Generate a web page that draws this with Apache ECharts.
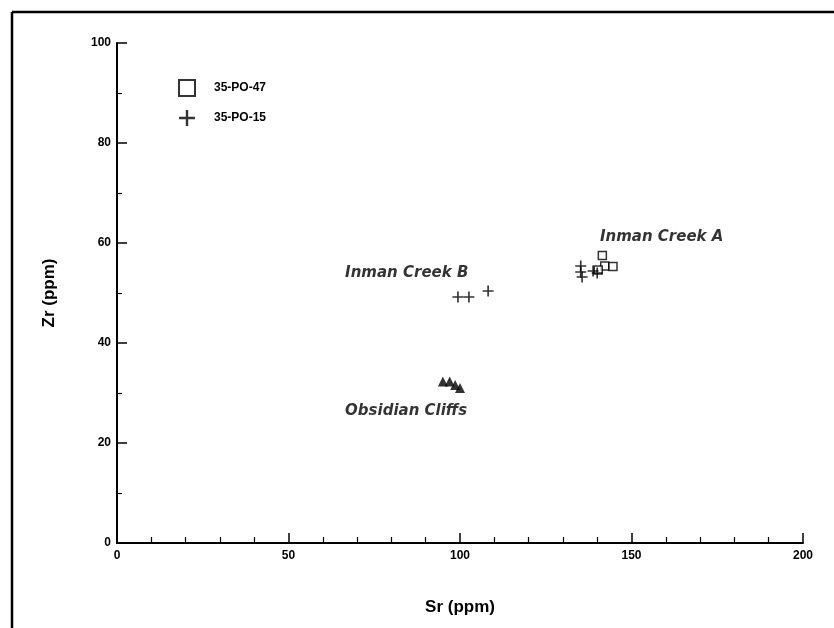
<!DOCTYPE html>
<html><head><meta charset="utf-8">
<script src="https://cdn.jsdelivr.net/npm/echarts@6/dist/echarts.min.js"></script>
<style>html,body{margin:0;padding:0;background:#fff}#c{width:834px;height:628px}</style>
</head><body><div id="c"></div>
<script>
// Data (Sr ppm, Zr ppm)
const po47 = [[141.5,57.5],[142.2,55.4],[144.6,55.3],[140.3,54.6]];
const po15 = [[99.4,49.2],[102.6,49.2],[108.2,50.4],[135.2,55.4],[135.2,54.2],[135.6,53.2],[138.8,54.4],[140.0,54.0]];
const obsidian = [[95.0,32.3],[97.0,32.3],[98.6,31.6],[100.0,31.0]];
const sourceNames = ['Inman Creek A','Inman Creek B','Obsidian Cliffs'];
const sourceX = [140.8, 66.5, 66.5];
const sourceY = [61.2, 54.0, 26.4];
const xTicks = [0,50,100,150,200];
const yTicks = [0,20,40,60,80,100];

const plus = 'path://M4.25,0h1.5v4.25h4.25v1.5h-4.25v4.25h-1.5v-4.25h-4.25v-1.5h4.25z';
const chart = echarts.init(document.getElementById('c'));
const tickFont = {color:'#000', fontFamily:'Liberation Sans, Arial', fontWeight:'bold', fontSize:12};
chart.setOption({
  animation:false,
  grid:{left:117, right:31, top:43, bottom:85},
  legend:{
    orient:'vertical', left:173, top:74, itemGap:13, itemWidth:16, itemHeight:16,
    data:['35-PO-47','35-PO-15'],
    textStyle:{color:'#000', fontFamily:'Liberation Sans, Arial', fontSize:12, fontWeight:'bold', padding:[0,0,0,14]}
  },
  xAxis:{
    type:'value', min:xTicks[0], max:xTicks[xTicks.length-1], interval:50,
    name:'Sr (ppm)', nameLocation:'middle', nameGap:56,
    nameTextStyle:{color:'#000', fontFamily:'Liberation Sans, Arial', fontWeight:'bold', fontSize:17},
    axisLine:{lineStyle:{color:'#000', width:2}},
    axisTick:{inside:true, length:10, lineStyle:{color:'#000', width:1.5}},
    minorTick:{show:true, splitNumber:5, length:6, lineStyle:{color:'#000', width:1.2}},
    axisLabel:Object.assign({margin:7}, tickFont),
    splitLine:{show:false}
  },
  yAxis:{
    type:'value', min:yTicks[0], max:yTicks[yTicks.length-1], interval:20,
    name:'Zr (ppm)', nameLocation:'middle', nameGap:59, nameRotate:90,
    nameTextStyle:{color:'#000', fontFamily:'Liberation Sans, Arial', fontWeight:'bold', fontSize:17},
    axisLine:{lineStyle:{color:'#000', width:2}},
    axisTick:{inside:true, length:10, lineStyle:{color:'#000', width:1.5}},
    minorTick:{show:true, splitNumber:2, length:5, lineStyle:{color:'#000', width:1.2}},
    axisLabel:Object.assign({margin:6}, tickFont),
    splitLine:{show:false}
  },
  series:[
    {name:'35-PO-47', type:'scatter', data:po47, symbol:'rect', symbolSize:8,
     itemStyle:{color:'#fff', borderColor:'#000', borderWidth:1.5}},
    {name:'35-PO-15', type:'scatter', data:po15, symbol:plus, symbolSize:11,
     itemStyle:{color:'#000'}},
    {name:'Obsidian Cliffs pts', type:'scatter', data:obsidian, symbol:'triangle', symbolSize:10,
     itemStyle:{color:'#000'}},
    {name:'labels', type:'scatter', symbolSize:0, silent:true,
     data:sourceNames.map((n,i)=>({value:[sourceX[i],sourceY[i]], name:n})),
     label:{show:true, position:'right', distance:0, formatter:p=>p.name, color:'#000',
       fontFamily:'DejaVu Sans', fontStyle:'italic', fontWeight:'bold', fontSize:15}}
  ],
  graphic:[
    {type:'line', shape:{x1:12,y1:12,x2:834,y2:12}, style:{stroke:'#000', lineWidth:2.5}},
    {type:'line', shape:{x1:12,y1:12,x2:12,y2:628}, style:{stroke:'#000', lineWidth:2.5}}
  ]
});
</script></body></html>
